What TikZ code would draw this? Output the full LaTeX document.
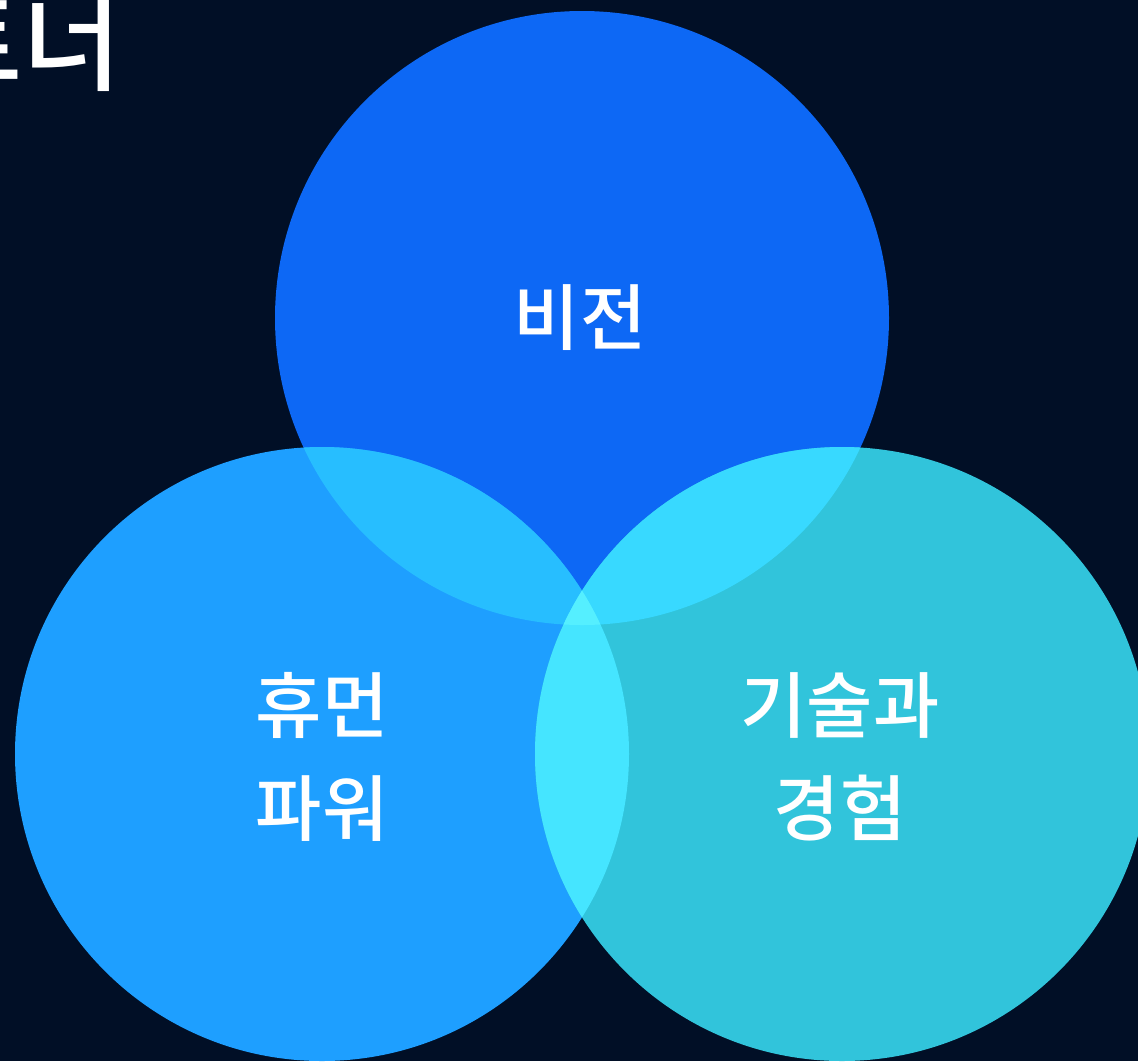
\documentclass[tikz,border=0pt]{standalone}
\usepackage{fontspec}
\newfontfamily\kr{Noto Sans CJK KR Medium}
\newfontfamily\krb{Noto Sans CJK KR Medium}
\definecolor{bg}{HTML}{010F26}
\definecolor{ctop}{HTML}{0D68F5}
\definecolor{cleft}{HTML}{1E9FFF}
\definecolor{cright}{HTML}{31C4DB}
\definecolor{ctl}{HTML}{27BEFF}
\definecolor{ctr}{HTML}{38D9FF}
\definecolor{clr}{HTML}{45E5FF}
\definecolor{call}{HTML}{55EFFF}
\begin{document}
\begin{tikzpicture}[x=1pt,y=-1pt,
  lbl/.style={text=white,font=\krb\fontsize{72}{103}\selectfont,align=center,inner sep=0pt}]
\useasboundingbox (0,0) rectangle (1138,1061);
\fill[bg] (0,0) rectangle (1138,1061);
\def\R{307}
\coordinate (T) at (582,318);
\coordinate (L) at (322,754);
\coordinate (Rc) at (842,754);
\fill[ctop] (T) circle (\R);
\fill[cleft] (L) circle (\R);
\fill[cright] (Rc) circle (\R);
\begin{scope}
  \clip (T) circle (\R);
  \fill[ctl] (L) circle (\R);
  \fill[ctr] (Rc) circle (\R);
\end{scope}
\begin{scope}
  \clip (L) circle (\R);
  \fill[clr] (Rc) circle (\R);
  \clip (Rc) circle (\R);
  \fill[call] (T) circle (\R);
\end{scope}
\node[text=white,font=\kr\fontsize{108}{108}\selectfont,anchor=base east,inner sep=0pt] (title) at (122,82) {파트너};
\node[lbl] (vision) at (580,318) {비전};
\node[lbl] (human) at (322,757) {휴먼\\파워};
\node[lbl] (tech) at (840,757) {기술과\\경험};
\end{tikzpicture}
\end{document}
